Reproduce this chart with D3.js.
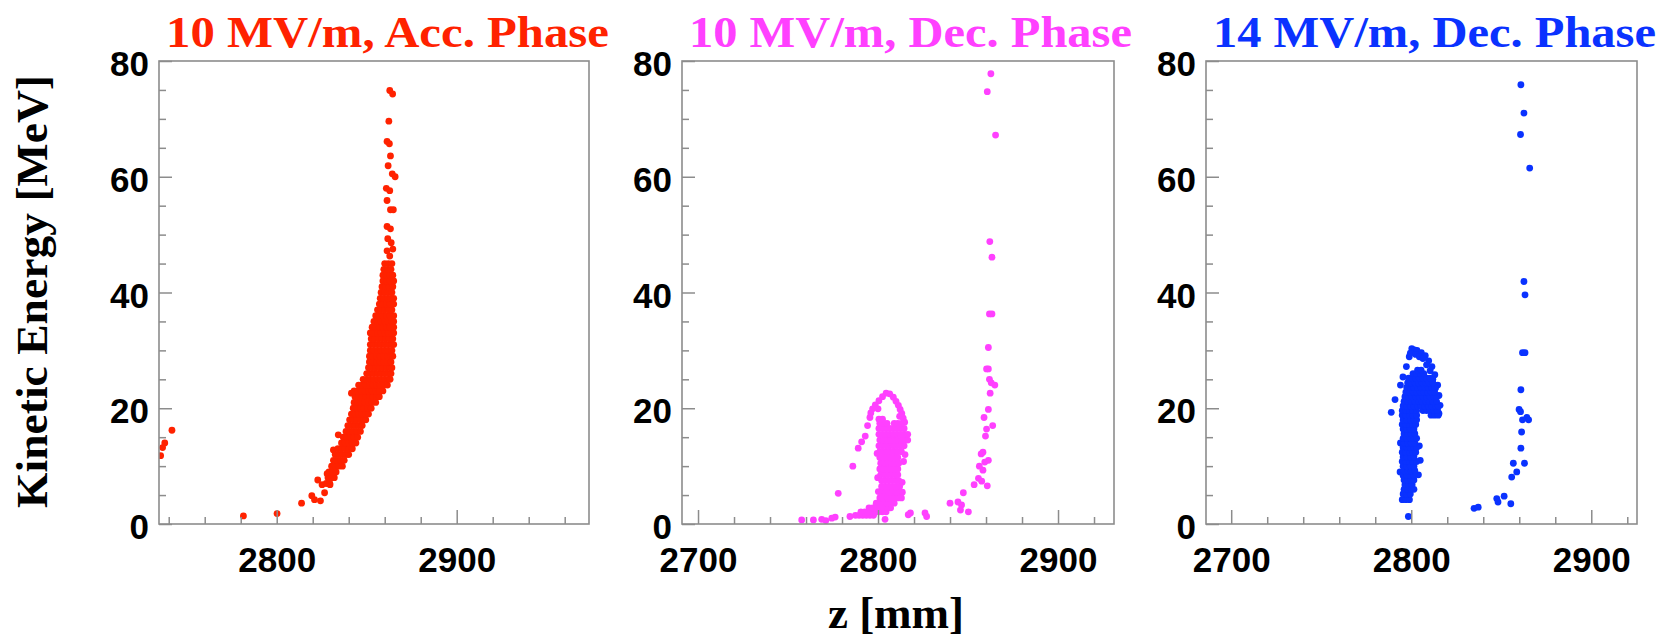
<!DOCTYPE html>
<html>
<head>
<meta charset="utf-8">
<script src="https://cdn.jsdelivr.net/npm/d3@7"></script>
<style>
  body { margin: 0; background: #fff; }
  svg { display: block; }
  .tick text { font-family: "Liberation Sans", Arial, sans-serif; font-weight: bold; font-size: 35px; fill: #000; }
  .title { font-family: "Liberation Serif", "Times New Roman", serif; font-weight: bold; font-size: 45px; }
</style>
</head>
<body>
<svg id="chart" width="1662" height="637"></svg>
<script>
// tick values
const yMajor = [0, 20, 40, 60, 80];
const yMinor = [5, 10, 15, 25, 30, 35, 45, 50, 55, 65, 70, 75];
const xMajorAcc = [2800, 2900];
const xMinorAcc = [2740, 2760, 2780, 2820, 2840, 2860, 2880, 2920, 2940, 2960];
const xMajorDec = [2700, 2800, 2900];
const xMinorDec = [2720, 2740, 2760, 2780, 2820, 2840, 2860, 2880, 2920];

// 10 MV/m, Acc. Phase  -- [z, E] single points
const redSparse = [
  [2735.5, 11.8], [2736.6, 13.2], [2737.8, 14.0], [2741.8, 16.2],
  [2781.5, 1.4], [2800.2, 1.8],
  [2813.8, 3.6], [2819.5, 4.9], [2821.0, 4.2], [2824.3, 4.0], [2822.8, 7.6], [2825.2, 6.8],
  [2826.6, 5.4], [2828.0, 8.7], [2829.6, 6.8], [2831.5, 12.8], [2834.2, 15.4], [2841.5, 22.6],
  [2862.8, 74.9], [2864.4, 74.3], [2862.3, 69.6], [2861.3, 66.1], [2862.6, 65.7], [2863.2, 63.6],
  [2861.9, 61.9], [2864.2, 60.5], [2865.8, 60.0], [2860.9, 58.0], [2862.8, 57.6], [2861.3, 55.9],
  [2863.2, 54.3], [2864.8, 54.3], [2861.3, 51.4], [2863.2, 51.0], [2861.7, 49.3], [2863.6, 48.6],
  [2861.3, 47.2], [2862.8, 46.3], [2864.5, 47.5]
];
// dense band, one row per energy: [E, z, z, ...]
const redRows = [
  [7, 2827.5, 2829.5],
  [8, 2828.5, 2830.5, 2832],
  [9, 2829, 2831, 2833],
  [10, 2830.5, 2832.5, 2834.5, 2836.5],
  [11, 2831.5, 2833.5, 2835.5, 2837.5],
  [12, 2832.5, 2834.5, 2836.5, 2838.5, 2840],
  [13, 2834, 2836, 2838, 2840, 2842],
  [14, 2836, 2838, 2840, 2842, 2844],
  [15, 2837, 2839, 2841, 2843, 2845],
  [16, 2838.5, 2840.5, 2842.5, 2844.5, 2846.5],
  [17, 2839.5, 2841.5, 2843.5, 2845.5, 2847.5],
  [18, 2840.5, 2842.5, 2844.5, 2846.5, 2848.5, 2849.5],
  [19, 2841.5, 2843.5, 2845.5, 2847.5, 2849.5, 2851],
  [20, 2842.5, 2844.5, 2846.5, 2848.5, 2850.5, 2852.5],
  [21, 2843, 2845, 2847, 2849, 2851, 2853, 2855],
  [22, 2843.5, 2845.5, 2847.5, 2849.5, 2851.5, 2853.5, 2855.5, 2857],
  [23, 2843, 2845, 2847, 2849, 2851, 2853, 2855, 2857, 2859],
  [24, 2845.5, 2847.5, 2849.5, 2851.5, 2853.5, 2855.5, 2857.5, 2859.5, 2861.5],
  [25, 2848, 2850, 2852, 2854, 2856, 2858, 2860, 2862, 2863],
  [26, 2850, 2852, 2854, 2856, 2858, 2860, 2862, 2863.5],
  [27, 2851, 2853, 2855, 2857, 2859, 2861, 2863, 2864],
  [28, 2851.5, 2853.5, 2855.5, 2857.5, 2859.5, 2861.5, 2863.5],
  [29, 2851.5, 2853.5, 2855.5, 2857.5, 2859.5, 2861.5, 2863.5, 2864.5],
  [30, 2852, 2854, 2856, 2858, 2860, 2862, 2864],
  [31, 2852, 2854, 2856, 2858, 2860, 2862, 2864, 2865],
  [32, 2852.5, 2854.5, 2856.5, 2858.5, 2860.5, 2862.5, 2864.5],
  [33, 2852, 2854, 2856, 2858, 2860, 2862, 2864, 2865],
  [34, 2853, 2855, 2857, 2859, 2861, 2863, 2865],
  [35, 2854, 2856, 2858, 2860, 2862, 2864, 2865],
  [36, 2855, 2857, 2859, 2861, 2863, 2865],
  [37, 2856, 2858, 2860, 2862, 2864],
  [38, 2857, 2859, 2861, 2863, 2865],
  [39, 2857.5, 2859.5, 2861.5, 2863.5, 2865],
  [40, 2858, 2860, 2862, 2864],
  [41, 2858.5, 2860.5, 2862.5, 2864.5],
  [42, 2859, 2861, 2863, 2865],
  [43, 2859, 2861, 2863, 2864.5],
  [44, 2859.5, 2861.5, 2863.5],
  [45, 2860, 2862, 2864]
];

// 10 MV/m, Dec. Phase
const magentaSparse = [
  [2757.6, 0.7], [2764.1, 0.7], [2768.7, 0.8], [2771.0, 0.6], [2774.3, 1.0], [2776.2, 1.2],
  [2784.4, 1.3], [2777.9, 5.3], [2786.0, 10.0], [2789.0, 13.1], [2790.9, 14.2], [2792.9, 15.2],
  [2794.2, 17.0], [2803.9, 0.8], [2816.8, 1.6], [2818.0, 1.9], [2826.1, 1.9], [2827.0, 1.3],
  [2840.0, 3.6], [2844.4, 3.8], [2847.4, 5.4], [2846.4, 3.3], [2845.8, 2.4], [2850.2, 2.1],
  [2853.4, 6.8], [2857.6, 7.4], [2860.7, 6.6], [2855.8, 7.9], [2858.3, 9.3], [2856.3, 10.0],
  [2859.3, 10.7], [2861.3, 11.0], [2857.3, 12.1], [2858.3, 12.4], [2859.7, 15.2], [2860.3, 16.4],
  [2863.7, 17.0], [2858.9, 18.4], [2861.3, 19.8], [2862.3, 22.6], [2864.9, 24.0], [2862.9, 24.4],
  [2861.9, 25.0], [2860.3, 26.8], [2861.3, 26.8], [2861.3, 30.5], [2861.9, 36.3], [2863.3, 36.3],
  [2863.3, 46.1], [2862.1, 48.8], [2865.3, 67.2], [2860.7, 74.7], [2862.7, 77.8],
  [2804.5, 22.6], [2806.5, 22.5], [2802.5, 22.0], [2808.5, 21.9], [2800.5, 21.3], [2810.0, 21.2],
  [2798.5, 20.6], [2811.3, 20.5], [2797.0, 19.9], [2812.3, 19.8], [2800.0, 19.9], [2796.0, 19.2],
  [2813.2, 19.1], [2795.5, 18.4], [2814.0, 18.3], [2812.0, 18.6], [2814.8, 17.6],
  [2815.0, 12.0], [2814.2, 10.8], [2799.5, 12.2], [2799.8, 8.0], [2813.4, 7.2], [2800.2, 5.6]
];
const magentaRows = [
  [1.5, 2787.5, 2789.5, 2791.5, 2793.5, 2795.5, 2797.5],
  [2.1, 2790.5, 2792.5, 2794.5, 2796.5, 2798.5, 2800.5, 2802.5, 2804.5],
  [2.8, 2795, 2797, 2799, 2801, 2803, 2805, 2807],
  [3.6, 2799, 2801, 2803, 2805, 2807, 2809],
  [4.5, 2801, 2803, 2805, 2807, 2809, 2811, 2813],
  [5.5, 2802, 2804, 2806, 2808, 2810, 2812, 2813.5],
  [6.5, 2802, 2804, 2806, 2808, 2810, 2812],
  [7.5, 2802, 2804, 2806, 2808, 2810, 2811.5],
  [8.5, 2801.5, 2803.5, 2805.5, 2807.5, 2809.5, 2811],
  [9.5, 2801, 2803, 2805, 2807, 2809, 2811],
  [10.5, 2801.5, 2803.5, 2805.5, 2807.5, 2809.5, 2811.5],
  [11.5, 2801, 2803, 2805, 2807, 2809, 2811],
  [12.5, 2801, 2803, 2805, 2807, 2809, 2811, 2813],
  [13.5, 2800.5, 2802.5, 2804.5, 2806.5, 2808.5, 2810.5, 2812.5, 2814.5],
  [14.5, 2801, 2803, 2805, 2807, 2809, 2811, 2813, 2815, 2816.5],
  [15.5, 2800.5, 2802.5, 2804.5, 2806.5, 2808.5, 2810.5, 2812.5, 2814.5, 2816.5],
  [16.5, 2800.5, 2802.5, 2804.5, 2806.5, 2808.5, 2810.5, 2812.5, 2814.5],
  [17.4, 2801, 2803, 2805, 2809, 2811, 2813],
  [18.1, 2800.5, 2802.5]
];

// 14 MV/m, Dec. Phase
const blueSparse = [
  [2860.9, 75.9], [2862.6, 71.0], [2860.7, 67.3], [2865.8, 61.5], [2862.6, 41.9], [2863.2, 39.6],
  [2861.8, 29.6], [2863.2, 29.6], [2860.9, 23.2], [2859.9, 19.8], [2860.7, 19.4], [2864.2, 18.4],
  [2865.2, 18.0], [2861.8, 18.0], [2861.3, 15.9], [2860.9, 13.1], [2862.9, 10.5], [2856.7, 10.5],
  [2858.6, 9.0], [2855.8, 8.1], [2851.6, 4.8], [2847.5, 4.4], [2848.2, 3.8], [2855.3, 3.5],
  [2834.9, 2.7], [2837.2, 2.9], [2798.4, 1.3],
  [2788.9, 19.3], [2791.0, 21.5], [2794.0, 24.0], [2795.4, 25.4], [2797.3, 27.2], [2798.9, 28.9],
  [2800.3, 30.3], [2801.8, 30.1], [2803.2, 30.0], [2805.6, 29.6], [2807.8, 29.1], [2809.7, 28.2],
  [2811.5, 27.2], [2813.1, 25.8], [2814.7, 24.0], [2815.4, 22.2], [2816.0, 20.5], [2815.4, 19.1],
  [2799.5, 29.5], [2802.5, 29.3], [2804.5, 28.9], [2806.5, 28.6], [2808.5, 27.5], [2810.5, 26.5],
  [2812.0, 25.0], [2813.5, 23.5], [2814.0, 21.0], [2814.5, 19.8],
  [2804.5, 13.5], [2805.0, 11.0], [2804.0, 8.5], [2794.0, 14.0], [2793.8, 9.0]
];
const blueRows = [
  [4.2, 2795, 2797, 2799],
  [5.2, 2795.5, 2797.5, 2799.5],
  [6.0, 2796, 2798, 2800, 2801.5],
  [6.8, 2796.5, 2798.5, 2800.5],
  [7.6, 2796, 2798, 2800, 2801.5],
  [8.4, 2795.5, 2797.5, 2799.5, 2801.5],
  [9.2, 2796, 2798, 2800, 2802],
  [10.0, 2795.5, 2797.5, 2799.5, 2801.5],
  [10.8, 2795, 2797, 2799, 2801, 2803],
  [11.6, 2795.5, 2797.5, 2799.5, 2801.5],
  [12.4, 2795, 2797, 2799, 2801, 2802.5],
  [13.2, 2795.5, 2797.5, 2799.5, 2801.5, 2803],
  [14.0, 2796, 2798, 2800, 2802],
  [14.8, 2795.5, 2797.5, 2799.5, 2801.5, 2803],
  [15.6, 2796, 2798, 2800, 2802],
  [16.4, 2795.5, 2797.5, 2799.5, 2801.5],
  [17.2, 2795, 2797, 2799, 2801, 2802.5],
  [18.0, 2795.5, 2797.5, 2799.5, 2801.5, 2803],
  [18.8, 2795, 2797, 2799, 2801, 2803, 2811, 2813, 2815],
  [19.6, 2795, 2797, 2799, 2801, 2803, 2806.5, 2808.5, 2810.5, 2812.5, 2814.5],
  [20.4, 2795.5, 2797.5, 2799.5, 2801.5, 2803.5, 2805.5, 2807.5, 2809.5, 2811.5, 2813.5, 2815],
  [21.2, 2796, 2798, 2800, 2802, 2804, 2806, 2808, 2810, 2812, 2814],
  [22.0, 2796.5, 2798.5, 2800.5, 2802.5, 2804.5, 2806.5, 2808.5, 2810.5, 2812.5, 2814],
  [22.8, 2797, 2799, 2801, 2803, 2805, 2807, 2809, 2811, 2813],
  [23.6, 2797.5, 2799.5, 2801.5, 2803.5, 2805.5, 2807.5, 2809.5, 2811.5, 2813],
  [24.4, 2798, 2800, 2802, 2804, 2806, 2808, 2810, 2812],
  [25.2, 2798.5, 2800.5, 2802.5, 2804.5, 2806.5, 2808.5, 2810.5],
  [26.0, 2801, 2803, 2805, 2807],
  [26.6, 2803.5, 2805.5]
];

const rowsToPoints = (rows) => rows.flatMap(([e, ...zs]) => zs.map((z) => [z, e]));

const panels = [
  { title: '10 MV/m, Acc. Phase', color: '#ff2200', domain: [2734.6, 2973.5],
    major: xMajorAcc, minor: xMinorAcc, points: redSparse.concat(rowsToPoints(redRows)) },
  { title: '10 MV/m, Dec. Phase', color: '#ff40ff', domain: [2691.1, 2931.1],
    major: xMajorDec, minor: xMinorDec, points: magentaSparse.concat(rowsToPoints(magentaRows)) },
  { title: '14 MV/m, Dec. Phase', color: '#0a32ff', domain: [2686, 2925.4],
    major: xMajorDec, minor: xMinorDec, points: blueSparse.concat(rowsToPoints(blueRows)) }
];

const frames = [{ left: 159, right: 589 }, { left: 682, right: 1114 }, { left: 1206, right: 1637 }];
const plotTop = 61, plotBottom = 524;
const grey = '#8c8c8c';

const svg = d3.select('#chart');
svg.append('rect').attr('width', 1662).attr('height', 637).attr('fill', '#fff');

const styleAxis = (s) => {
  s.select('.domain').remove();
  s.selectAll('line').attr('stroke', grey).attr('stroke-width', 1.5);
};

panels.forEach((p, i) => {
  const f = frames[i];
  const x = d3.scaleLinear().domain(p.domain).range([f.left, f.right]);
  const y = d3.scaleLinear().domain([0, 80]).range([plotBottom, plotTop]);
  const g = svg.append('g');

  g.append('clipPath').attr('id', 'clip' + i)
    .append('rect')
    .attr('x', f.left).attr('y', plotTop)
    .attr('width', f.right - f.left).attr('height', plotBottom - plotTop);

  g.append('g').attr('clip-path', `url(#clip${i})`)
    .selectAll('circle')
    .data(p.points)
    .join('circle')
    .attr('cx', (d) => x(d[0]))
    .attr('cy', (d) => y(d[1]))
    .attr('r', 3.4)
    .attr('fill', p.color);

  // x axis, major + minor ticks pointing inward
  g.append('g')
    .attr('transform', `translate(0,${plotBottom})`)
    .call(d3.axisBottom(x).tickValues(p.minor).tickSize(-7).tickFormat(''))
    .call(styleAxis);
  g.append('g')
    .attr('transform', `translate(0,${plotBottom})`)
    .call(d3.axisBottom(x).tickValues(p.major).tickSize(-14).tickPadding(23).tickFormat(d3.format('d')))
    .call(styleAxis);

  // y axis
  g.append('g')
    .attr('transform', `translate(${f.left},0)`)
    .call(d3.axisLeft(y).tickValues(yMinor).tickSize(-7).tickFormat(''))
    .call(styleAxis);
  g.append('g')
    .attr('transform', `translate(${f.left},0)`)
    .call(d3.axisLeft(y).tickValues(yMajor).tickSize(-13).tickPadding(10).tickFormat(d3.format('d')))
    .call(styleAxis)
    .call((s) => s.selectAll('text').attr('dy', '0.42em'));

  g.append('rect')
    .attr('x', f.left).attr('y', plotTop)
    .attr('width', f.right - f.left).attr('height', plotBottom - plotTop)
    .attr('fill', 'none').attr('stroke', grey).attr('stroke-width', 1.6);

  g.append('text')
    .attr('class', 'title')
    .attr('x', f.left + 7).attr('y', 47)
    .attr('textLength', 443).attr('lengthAdjust', 'spacingAndGlyphs')
    .attr('fill', p.color)
    .text(p.title);
});

svg.append('text')
  .attr('class', 'title')
  .attr('transform', 'translate(47,291.5) rotate(-90)')
  .attr('text-anchor', 'middle')
  .attr('textLength', 433).attr('lengthAdjust', 'spacingAndGlyphs')
  .text('Kinetic Energy [MeV]');

svg.append('text')
  .attr('class', 'title')
  .attr('x', 896).attr('y', 628)
  .attr('text-anchor', 'middle')
  .text('z [mm]');
</script>
</body>
</html>
